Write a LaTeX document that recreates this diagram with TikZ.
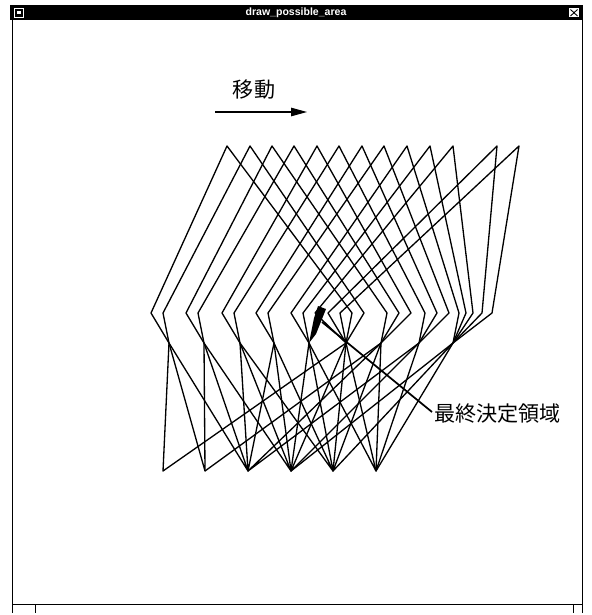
\documentclass[tikz,border=0pt]{standalone}
\usepackage{fontspec}
\setsansfont{Liberation Sans}
\newfontfamily\cjk{Noto Sans CJK JP}
\usetikzlibrary{arrows.meta}
\tikzset{
  mesh/.style={line width=1.5pt, line join=round},
  frame/.style={line width=1pt},
  jtext/.style={font=\cjk\fontsize{24}{28}\selectfont, inner sep=1pt}
}
\begin{document}
\begin{tikzpicture}[x=0.4mm, y=-0.4mm]
  \useasboundingbox (0,0) rectangle (591,615);
  % Coordinates
  \coordinate (T1) at (227,146);
  \coordinate (T2) at (250,146);
  \coordinate (T3) at (272,146);
  \coordinate (T4) at (294,146);
  \coordinate (T5) at (317,146);
  \coordinate (T6) at (339,146);
  \coordinate (T7) at (362,146);
  \coordinate (T8) at (384,146);
  \coordinate (T9) at (407,146);
  \coordinate (T10) at (430,146);
  \coordinate (T11) at (453,146);
  \coordinate (T12) at (497,146);
  \coordinate (T13) at (519,146);
  \coordinate (L1) at (151,313);
  \coordinate (L2) at (163,313);
  \coordinate (L3) at (186,313);
  \coordinate (L4) at (198,313);
  \coordinate (L5) at (222,313);
  \coordinate (L6) at (234,313);
  \coordinate (L7) at (256,313);
  \coordinate (L8) at (268,313);
  \coordinate (L9) at (291,313);
  \coordinate (L10) at (303,313);
  \coordinate (L11) at (315,313);
  \coordinate (L12) at (328,313);
  \coordinate (L13) at (340,313);
  \coordinate (R1) at (352,313);
  \coordinate (R2) at (364,313);
  \coordinate (R3) at (387,313);
  \coordinate (R4) at (399,313);
  \coordinate (R5) at (411,313);
  \coordinate (R6) at (425,313);
  \coordinate (R7) at (437,313);
  \coordinate (R8) at (449,313);
  \coordinate (R9) at (459,313);
  \coordinate (R10) at (466,313);
  \coordinate (R11) at (473,313);
  \coordinate (R12) at (482,313);
  \coordinate (R13) at (492,313);
  \coordinate (C1) at (169,343);
  \coordinate (C2) at (204,343);
  \coordinate (C3) at (240,343);
  \coordinate (C4) at (274,343);
  \coordinate (C5) at (309,343);
  \coordinate (C6) at (346,343);
  \coordinate (C7) at (381,343);
  \coordinate (C8) at (419,343);
  \coordinate (C9) at (453,343);
  \coordinate (B1) at (163,471);
  \coordinate (B2) at (205,471);
  \coordinate (B3) at (248,471);
  \coordinate (B4) at (291,471);
  \coordinate (B5) at (333,471);
  \coordinate (B6) at (376,471);
  \coordinate (F1) at (314,318);
  \coordinate (F2) at (318,306);
  \coordinate (F3) at (326,309);
  \coordinate (F4) at (316,334);
  \coordinate (P1) at (322,322);
  \coordinate (P2) at (432,412);
  \coordinate (M1) at (215,112);
  \coordinate (M2) at (307,112);

  % Window
  \fill[black] (10,5) rectangle (583,20);
  \node[text=white, font=\sffamily\bfseries\fontsize{12}{14}\selectfont] (title) at (296,12.5) {draw\_possible\_area};
  \draw[white, line width=0.8pt] (14,8.5) rectangle (23,17);
  \fill[white] (16.5,11) rectangle (20.5,14.5);
  \fill[white] (569,8) rectangle (579,17.5);
  \draw[black, line width=1pt] (570.5,9.5) -- (577.5,16) (577.5,9.5) -- (570.5,16);
  \draw[frame] (12,20) -- (12,613);
  \draw[frame] (582,20) -- (582,613);
  \draw[frame] (12,604) -- (582,604);
  \draw[frame] (35,604) -- (35,613);
  \draw[frame] (573,604) -- (573,613);

  % Drawing
  \node[jtext] (move) at (254,90) {移動};
  \draw[line width=1.2pt, -{Triangle[length=6.4mm, width=3.4mm]}] (M1) -- (M2);

  \draw[mesh] (C1) -- (L1) -- (T1) -- (R1) -- (C6);
  \draw[mesh] (C1) -- (L2) -- (T2) -- (R2) -- (C6);
  \draw[mesh] (C2) -- (L3) -- (T3) -- (R3) -- (C7);
  \draw[mesh] (C2) -- (L4) -- (T4) -- (R4) -- (C7);
  \draw[mesh] (C3) -- (L5) -- (T5) -- (R5) -- (C7);
  \draw[mesh] (C3) -- (L6) -- (T6) -- (R6) -- (C8);
  \draw[mesh] (C4) -- (L7) -- (T7) -- (R7) -- (C8);
  \draw[mesh] (C4) -- (L8) -- (T8) -- (R8) -- (C8);
  \draw[mesh] (C5) -- (L9) -- (T9) -- (R9) -- (C9);
  \draw[mesh] (C5) -- (L10) -- (T10) -- (R10) -- (C9);
  \draw[mesh] (C6) -- (L11) -- (T11) -- (R11) -- (C9);
  \draw[mesh] (C6) -- (L12) -- (T12) -- (R12) -- (C9);
  \draw[mesh] (C6) -- (L13) -- (T13) -- (R13) -- (C9);

  \draw[mesh] (C1) -- (B1) -- (C6);
  \draw[mesh] (C1) -- (B2) -- (C2);
  \draw[mesh] (B2) -- (C7);
  \draw[mesh] (C1) -- (B3) -- (C2);
  \draw[mesh] (C3) -- (B3) -- (C4);
  \draw[mesh] (C7) -- (B3) -- (C8);
  \draw[mesh] (C2) -- (B4) -- (C3);
  \draw[mesh] (C4) -- (B4) -- (C5);
  \draw[mesh] (C6) -- (B4) -- (C8);
  \draw[mesh] (B4) -- (C9);
  \draw[mesh] (C3) -- (B5) -- (C4);
  \draw[mesh] (C5) -- (B5) -- (C6);
  \draw[mesh] (C7) -- (B5) -- (C9);
  \draw[mesh] (C5) -- (B6) -- (C6);
  \draw[mesh] (C7) -- (B6) -- (C8);
  \draw[mesh] (B6) -- (C9);

  \fill[black] (C5) -- (F1) -- (F2) -- (F3) -- (F4) -- cycle;
  \draw[line width=2pt] (P1) -- (P2);
  \node[jtext, anchor=west] (final) at (433,414) {最終決定領域};
\end{tikzpicture}
\end{document}
